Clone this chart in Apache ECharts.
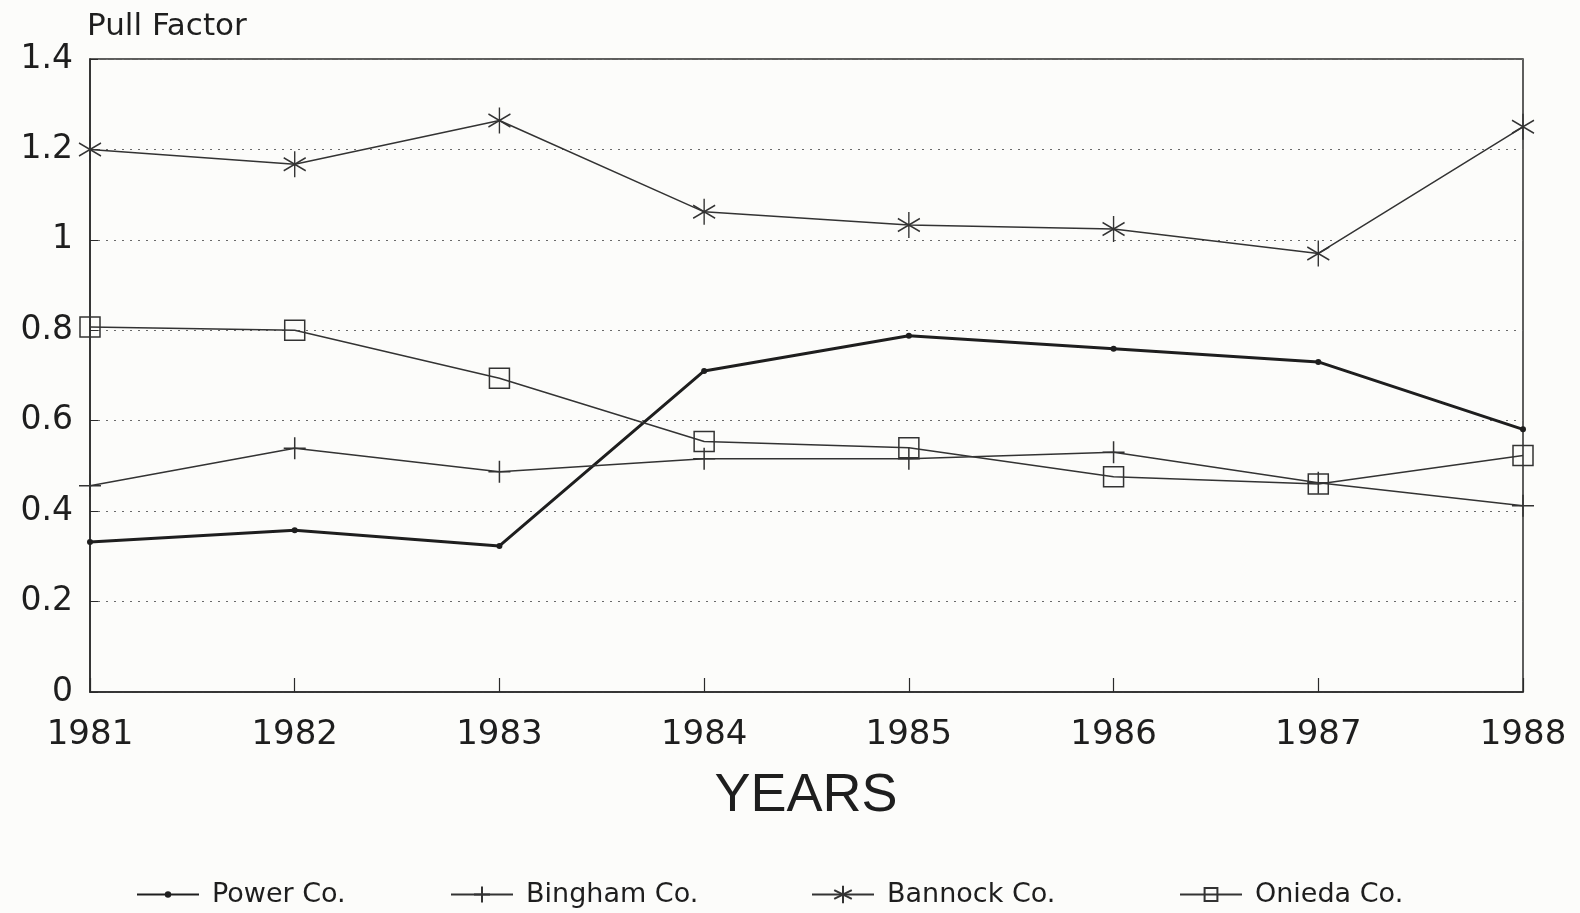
<!DOCTYPE html>
<html>
<head>
<meta charset="utf-8">
<script src="https://cdn.jsdelivr.net/npm/echarts@6/dist/echarts.min.js"></script>
<style>
html,body{margin:0;padding:0;background:#fcfcfa;}
#chart{width:1580px;height:913px;}
</style>
</head>
<body>
<div id="chart"></div>
<script>
const years = ['1981','1982','1983','1984','1985','1986','1987','1988'];
const powerCo   = [0.332, 0.358, 0.323, 0.710, 0.788, 0.759, 0.730, 0.581];
const binghamCo = [0.456, 0.539, 0.487, 0.516, 0.516, 0.530, 0.463, 0.412];
const bannockCo = [1.200, 1.167, 1.264, 1.062, 1.033, 1.024, 0.970, 1.250];
const oniedaCo  = [0.807, 0.800, 0.694, 0.554, 0.540, 0.476, 0.460, 0.523];
const seriesNames = ['Power Co.', 'Bingham Co.', 'Bannock Co.', 'Onieda Co.'];
const yTicks = ['0','0.2','0.4','0.6','0.8','1','1.2','1.4'];

const ink = '#2a2a2a';
const FONT = '"DejaVu Sans", "Liberation Sans", Arial, sans-serif';

const plusPath = 'path://M10,0L10,20M0,10L20,10';
const starPath = 'path://M8.66,0L8.66,20M0,5L17.32,15M0,15L17.32,5';
const squarePath = 'path://M0,0L20,0L20,20L0,20Z';

const legendLeft = [131, 445, 806, 1174];
const legendIconH = [8, 20, 22, 16];

const chart = echarts.init(document.getElementById('chart'), null, {renderer:'canvas'});
const option = {
  animation: false,
  backgroundColor: '#fcfcfa',
  grid: { left: 90, right: 57, top: 59, bottom: 221, show: true, borderColor: ink, borderWidth: 1.5, backgroundColor: 'transparent' },
  xAxis: {
    type: 'category', data: years, boundaryGap: false,
    axisLine: { lineStyle: { color: ink, width: 1.5 } },
    axisTick: { inside: true, length: 14, lineStyle: { color: ink, width: 1.2 } },
    axisLabel: { color: '#1e1e1e', fontFamily: FONT, fontSize: 34, margin: 26 },
    splitLine: { show: false }
  },
  yAxis: {
    type: 'value', min: 0, max: 1.4, interval: 0.2,
    axisLine: { show: true, lineStyle: { color: ink, width: 1.5 } },
    axisTick: { show: true, inside: true, length: 8, lineStyle: { color: ink } },
    axisLabel: { color: '#1e1e1e', fontFamily: FONT, fontSize: 33, margin: 17, padding: [5, 0, 0, 0],
      formatter: function (v) { return yTicks[Math.round(v / 0.2)]; } },
    splitLine: { show: true, lineStyle: { color: '#6a6a6a', width: 1, type: [2, 6] } }
  },
  legend: seriesNames.map(function (n, i) {
    return {
      left: legendLeft[i], top: 876, itemGap: 0, itemWidth: 62, itemHeight: legendIconH[i],
      textStyle: { color: '#1e1e1e', fontFamily: FONT, fontSize: 27, padding: [0, 0, 0, 8] },
      data: [n]
    };
  }),
  graphic: [
    { type: 'text', left: 87, top: 11, style: { text: 'Pull Factor', font: '31px ' + FONT, fill: '#1e1e1e' } },
    { type: 'text', x: 806, y: 796, style: { text: 'YEARS', font: '54px "Liberation Sans", Arial, sans-serif', fill: '#1e1e1e', textAlign: 'center', textVerticalAlign: 'middle' } }
  ],
  series: [
    { name: seriesNames[0], type: 'line', data: powerCo, symbol: 'circle', symbolSize: 6,
      lineStyle: { color: '#1e1e1e', width: 3 }, itemStyle: { color: '#1e1e1e' } },
    { name: seriesNames[1], type: 'line', data: binghamCo, symbol: plusPath, symbolSize: 22,
      lineStyle: { color: '#333', width: 1.5 }, itemStyle: { color: 'transparent', borderColor: '#333', borderWidth: 1.5 } },
    { name: seriesNames[2], type: 'line', data: bannockCo, symbol: starPath, symbolSize: [22, 26],
      lineStyle: { color: '#333', width: 1.5 }, itemStyle: { color: 'transparent', borderColor: '#333', borderWidth: 1.5 } },
    { name: seriesNames[3], type: 'line', data: oniedaCo, symbol: squarePath, symbolSize: 20,
      lineStyle: { color: '#333', width: 1.5 }, itemStyle: { color: 'transparent', borderColor: '#333', borderWidth: 1.5 } }
  ]
};
chart.setOption(option);
</script>
</body>
</html>
